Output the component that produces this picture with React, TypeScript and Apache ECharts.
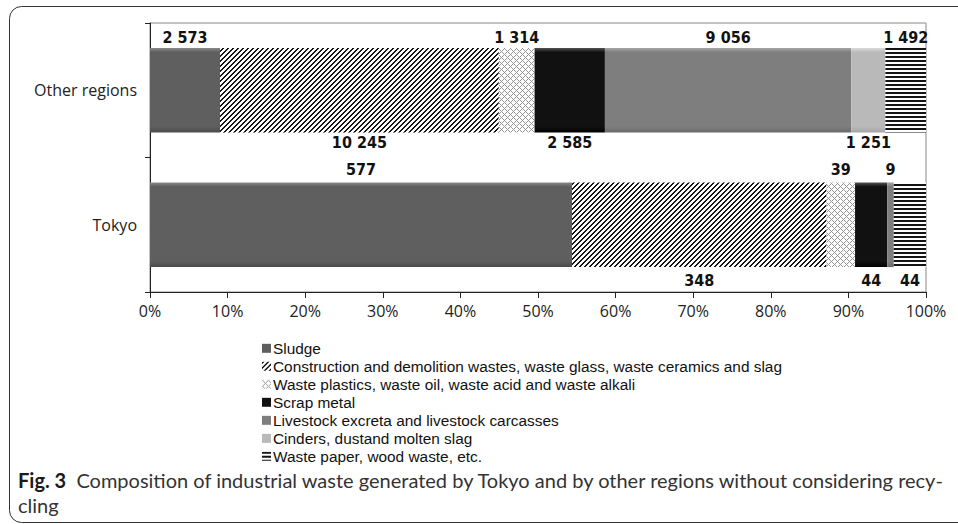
import React, { useEffect, useRef } from "react";
import * as echarts from "echarts";

const categories = ["Tokyo", "Other regions"];
const seriesNames = [
  "Sludge",
  "Construction and demolition wastes, waste glass, waste ceramics and slag",
  "Waste plastics, waste oil, waste acid and waste alkali",
  "Scrap metal",
  "Livestock excreta and livestock carcasses",
  "Cinders, dustand molten slag",
  "Waste paper, wood waste, etc.",
];
// values per category: [Tokyo, Other regions]
const sludge = [577, 2573];
const construction = [348, 10245];
const plastics = [39, 1314];
const scrapMetal = [44, 2585];
const livestock = [9, 9056];
const cinders = [0, 1251];
const paper = [44, 1492];
const seriesValues = [sludge, construction, plastics, scrapMetal, livestock, cinders, paper];

// label side per series, per category
const tokyoLabelSide = ["top", "bottom", "top", "bottom", "top", "bottom", "bottom"];
const otherLabelSide = ["top", "bottom", "top", "bottom", "top", "bottom", "top"];

const xMin = 0;
const xMax = 100;
const xInterval = 10;

const fmt = (v: number) => String(v).replace(/\B(?=(\d{3})+(?!\d))/g, " ");

function makePattern(w: number, h: number, fn: (x: number, y: number) => [number, number, number]) {
  const c = document.createElement("canvas");
  c.width = w;
  c.height = h;
  const ctx = c.getContext("2d")!;
  const img = ctx.createImageData(w, h);
  for (let y = 0; y < h; y++) {
    for (let x = 0; x < w; x++) {
      const [r, g, b] = fn(x, y);
      const i = (y * w + x) * 4;
      img.data[i] = r;
      img.data[i + 1] = g;
      img.data[i + 2] = b;
      img.data[i + 3] = 255;
    }
  }
  ctx.putImageData(img, 0, 0);
  return { image: c, repeat: "repeat", imageWidth: w, imageHeight: h } as any;
}

function vGrad(top: string, mid: string, bottom: string) {
  return new echarts.graphic.LinearGradient(0, 0, 0, 1, [
    { offset: 0, color: top },
    { offset: 0.05, color: mid },
    { offset: 0.93, color: mid },
    { offset: 1, color: bottom },
  ]);
}

export default function App() {
  const ref = useRef<HTMLDivElement>(null);
  useEffect(() => {
    if (!ref.current) return;
    const chart = echarts.init(ref.current, null, { renderer: "svg" });

    const white: [number, number, number] = [255, 255, 255];
    const diag = makePattern(5, 5, (x, y) => ((x + y) % 5 < 2 ? [20, 20, 20] : white));
    const cross = makePattern(6, 6, (x, y) =>
      (x + y) % 6 === 0 || (x - y + 6) % 6 === 0 ? [150, 150, 150] : white
    );
    const horiz = makePattern(4, 4, (x, y) => (y % 4 < 2 ? [20, 20, 20] : white));

    const fills = [
      vGrad("#8c8c8c", "#5f5f5f", "#4a4a4a"),
      diag,
      cross,
      vGrad("#555555", "#111111", "#000000"),
      vGrad("#a8a8a8", "#7e7e7e", "#6a6a6a"),
      vGrad("#dcdcdc", "#b9b9b9", "#a5a5a5"),
      horiz,
    ];

    const totals = categories.map((_, ci) => seriesValues.reduce((s, arr) => s + arr[ci], 0));
    const labelFont = "'DejaVu Sans Condensed', 'Liberation Sans Narrow', sans-serif";
    const textFont = "'Open Sans', Lato, sans-serif";
    const legendFont = "'Liberation Sans', Arial, sans-serif";
    const captionFont = "Lato, 'Open Sans', sans-serif";

    const series = seriesNames.map((name, si) => ({
      name,
      type: "bar",
      stack: "total",
      barWidth: "63%",
      itemStyle: { color: fills[si] },
      label: {
        show: true,
        fontFamily: labelFont,
        fontWeight: "bold",
        fontSize: 16,
        color: "#111",
        formatter: (p: any) => fmt(p.data.raw),
      },
      data: categories.map((_, ci) => {
        const v = seriesValues[si][ci];
        const side = ci === 0 ? tokyoLabelSide[si] : otherLabelSide[si];
        return {
          value: (v / totals[ci]) * 100,
          raw: v,
          label: { show: v > 0, position: side, distance: ci === 0 ? 5 : 2 },
        };
      }),
    }));

    chart.setOption({
      animation: false,
      backgroundColor: "#ffffff",
      grid: {
        left: 150,
        right: 32,
        top: 23,
        bottom: 232,
        show: true,
        borderColor: "#888",
        borderWidth: 1,
      },
      xAxis: {
        type: "value",
        min: xMin,
        max: xMax,
        interval: xInterval,
        axisLine: { show: true, lineStyle: { color: "#222", width: 1 } },
        axisTick: { show: true, length: 6, lineStyle: { color: "#222" } },
        splitLine: { show: false },
        axisLabel: {
          formatter: "{value}%",
          fontFamily: textFont,
          fontSize: 16,
          color: "#222",
          margin: 11,
        },
      },
      yAxis: {
        type: "category",
        data: categories,
        axisLine: { show: true, lineStyle: { color: "#222", width: 1 } },
        axisTick: { show: true, length: 5, lineStyle: { color: "#222" } },
        axisLabel: {
          fontFamily: textFont,
          fontSize: 16,
          color: "#222",
          margin: 13,
        },
      },
      legend: {
        orient: "vertical",
        left: 257,
        top: 335,
        itemWidth: 9,
        itemHeight: 9,
        itemGap: 1.5,
        icon: "rect",
        data: seriesNames,
        textStyle: {
          fontFamily: legendFont,
          fontSize: 15.4,
          lineHeight: 16.5,
          color: "#111",
          padding: [0, 0, 0, -3],
        },
      },
      graphic: [
        {
          type: "rect",
          silent: true,
          shape: { x: 9.5, y: 6.5, width: 980, height: 516, r: 12 },
          style: { fill: "none", stroke: "#333", lineWidth: 1 },
        },
        {
          type: "text",
          left: 18,
          top: 470,
          style: {
            text: "{b|Fig. 3}  Composition of industrial waste generated by Tokyo and by other regions without considering recy-",
            fontFamily: captionFont,
            fontSize: 20,
            fill: "#333",
            rich: {
              b: { fontFamily: captionFont, fontSize: 20, fontWeight: "bold", fill: "#1a1a1a" },
            },
          },
        },
        {
          type: "text",
          left: 18,
          top: 495,
          style: { text: "cling", fontFamily: captionFont, fontSize: 20, fill: "#333" },
        },
      ],
      series,
    });
    return () => chart.dispose();
  }, []);
  return (
    <div
      ref={ref}
      style={{ position: "fixed", left: 0, top: 0, width: 958, height: 524 }}
    />
  );
}
